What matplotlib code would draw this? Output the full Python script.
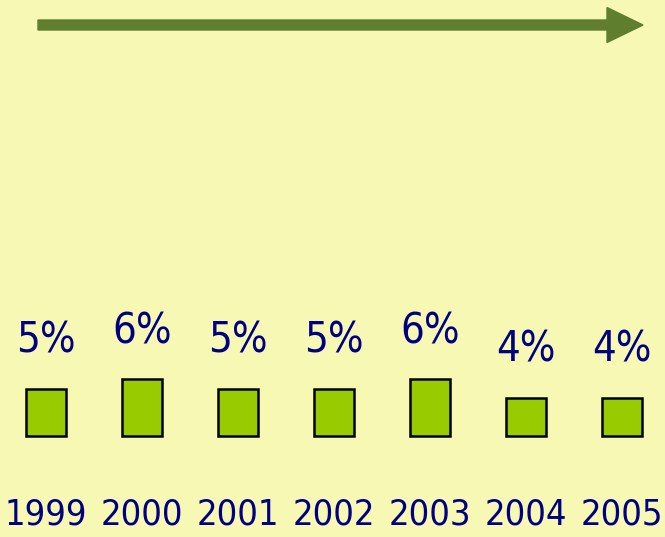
import matplotlib
matplotlib.use('Agg')
import matplotlib.pyplot as plt
import matplotlib.patches as mpatches
from matplotlib.transforms import blended_transform_factory

years = ['1999', '2000', '2001', '2002', '2003', '2004', '2005']
values = [5, 6, 5, 5, 6, 4, 4]
labels = ['5%', '6%', '5%', '5%', '6%', '4%', '4%']

bg = '#f6f8b4'
navy = '#000080'
fnt = ['DejaVu Sans']

fig = plt.figure(figsize=(6.65, 5.37), dpi=100, facecolor=bg)
ax = fig.add_axes([0, 0, 1, 1])
ax.set_facecolor(bg)

x = list(range(len(years)))
ax.bar(x, values, width=0.42, color='#99cc00', edgecolor='black', linewidth=1.8)

# percent labels above the bars
for xi, v, lab in zip(x, values, labels):
    ax.annotate(lab, (xi, v), xytext=(0, 48), textcoords='offset pixels',
                ha='center', va='center', fontsize=30, color=navy, family=fnt,
                fontstretch='condensed')

# year labels along the bottom
trans = blended_transform_factory(ax.transData, ax.transAxes)
for xi, yr in zip(x, years):
    ax.text(xi, 0.041, yr, transform=trans, ha='center', va='center',
            fontsize=26, color=navy, family=fnt, fontstretch='condensed')

# big arrow on top
arrow = mpatches.FancyArrow(0.38, 5.12, 6.05, 0, width=0.10, head_width=0.35,
                            head_length=0.36, length_includes_head=True,
                            color='#5f7f2f', transform=fig.dpi_scale_trans)
fig.patches.append(arrow)

ax.set_xlim(-46 / 96, 619 / 96)
ax.set_ylim(-101 / 9.5, 436 / 9.5)
ax.axis('off')

fig.savefig('out.png', dpi=100, facecolor=bg)
